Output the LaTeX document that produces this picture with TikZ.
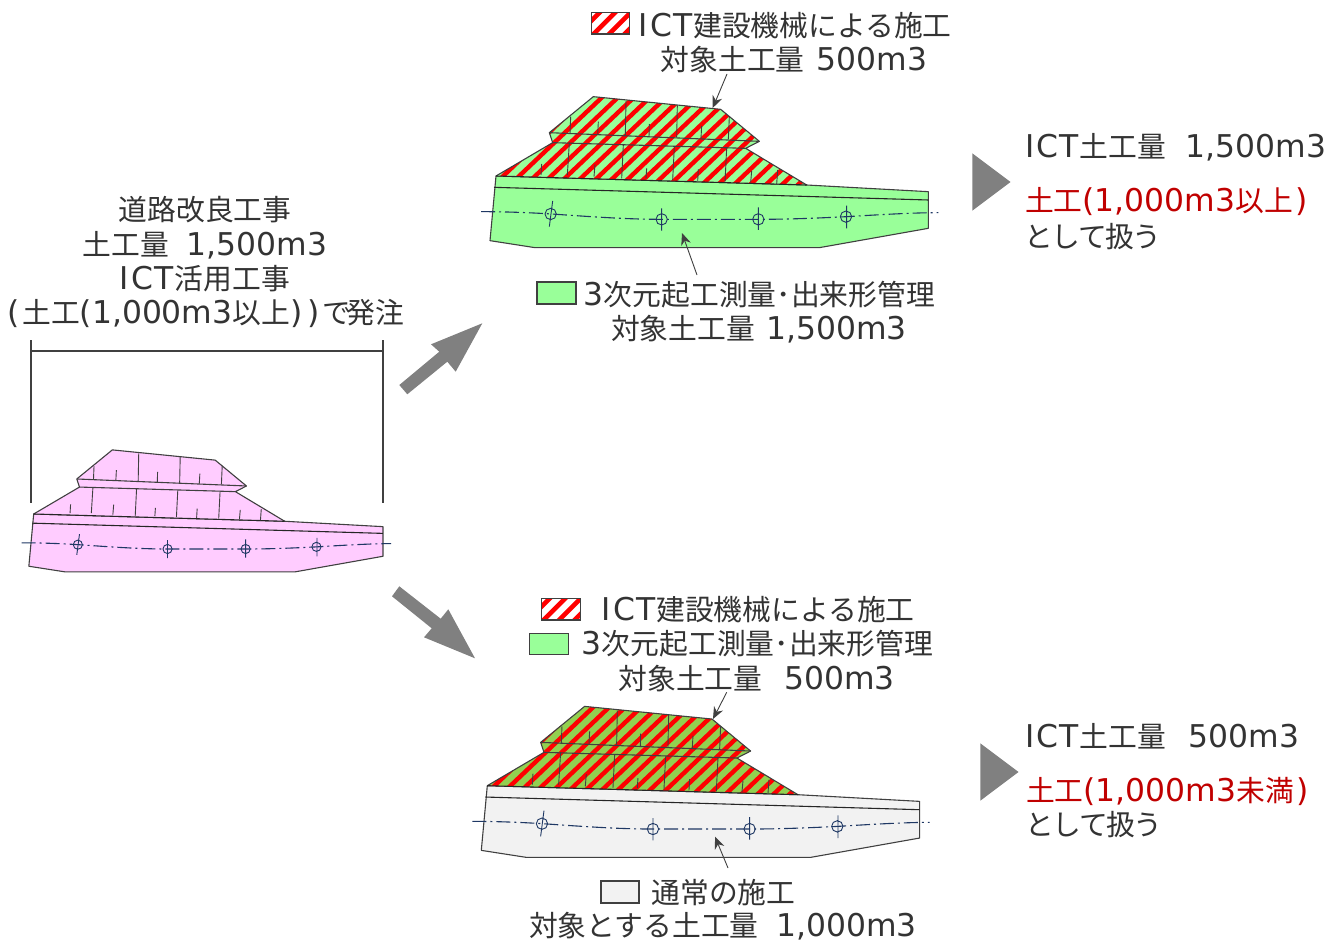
\documentclass[tikz,border=0pt]{standalone}
\usepackage{fontspec}
\setmainfont{Noto Sans CJK JP}
\newfontfamily\lat[Scale=1.09]{DejaVu Sans}
\usetikzlibrary{arrows.meta}
\definecolor{txt}{HTML}{333333}
\definecolor{redtxt}{HTML}{C00000}
\definecolor{edge}{HTML}{404040}
\definecolor{agray}{HTML}{808080}
\definecolor{lgreen}{HTML}{99FF99}
\definecolor{dgreen}{HTML}{92D050}
\definecolor{lpink}{HTML}{FFCCFF}
\definecolor{lgray}{HTML}{F2F2F2}
\definecolor{navy}{HTML}{1F3864}
\newcommand{\ICT}{{\lat I\kern2.5pt C\kern1pt T\kern1pt}}
\newcommand{\toshite}{と\kern-1.6pt し\kern-1.6pt て\kern-1.6pt 扱\kern-1.6pt う}
\tikzset{
 x=1pt,y=-1pt,
 lbl/.style={inner sep=0pt,outer sep=0pt,yshift=-1pt,text=txt,font=\fontsize{28.8}{34}\selectfont},
 bigarrow/.style={fill=agray,draw=none},
 leader/.style={draw=edge,line width=0.9pt,-{Stealth[length=12pt,width=10pt]}},
 swatch/.style={draw=edge,line width=1.1pt},
 sect/.style={draw=edge,line width=1.1pt,line join=round},
 tick/.style={draw=edge,line width=0.9pt},
 ctr/.style={draw=navy,line width=1.1pt,dash pattern=on 14pt off 4pt on 2pt off 4pt},
 mk/.style={draw=navy,line width=0.9pt},
}
\newcommand{\stripes}[1]{%
 \foreach \k in {-6,...,34}{%
  \draw[red,line width=4.4pt] ({\k*#1-300},560) -- ++(400,-380);}%
}
% base fill, mound fill, stripes flag 1/0
\newcommand{\xsect}[3]{%
 \path[sect,fill=#1] (48,528)--(980,555)--(1345,575)--(1345,685)--(1018,743)--(165,743)--(30,722)--cycle;
 \path[fill=#2] (340,290)--(722,328)--(838,424)--(797,445)--(980,555)--(48,528)--(218,428)--(208,398)--cycle;
 \ifnum#3=1
 \begin{scope}
  \clip (340,290)--(722,328)--(838,424)--(797,445)--(980,555)--(48,528)--(218,428)--(208,398)--cycle;
  \stripes{48}
 \end{scope}
 \fi
 \draw[sect] (48,528)--(218,428)--(208,398)--(340,290)--(722,328)--(838,424)--(797,445)--(980,555);
 \draw[sect,draw=black!85] (48,528)--(980,555);
 \draw[sect] (208,398)--(838,424) (218,428)--(797,445);
 \draw[sect,draw=black!85] (42,562)--(1345,600);
 \draw[tick] (438,303)--(436,405) (592,316)--(590,412) (748,350)--(745,418) (272,350)--(270,400)
  (355,365)--(353,405) (508,372)--(507,410) (665,378)--(663,415)
  (268,428)--(262,525) (430,435)--(425,535) (583,440)--(578,540) (740,445)--(735,545) (893,510)--(890,552)
  (185,492)--(183,525) (345,493)--(342,530) (500,505)--(498,535) (655,508)--(653,542) (815,513)--(812,548);
 \draw[ctr] (3,635) .. controls (80,635) and (150,638) .. (215,642) .. controls (330,650) and (440,658) .. (545,658) -- (835,658) .. controls (930,658) and (1020,654) .. (1100,650) .. controls (1200,644) and (1300,638) .. (1375,638);
 \draw[mk] (212,642) circle[radius=17] (218,603)--(208,680)
  (545,658) circle[radius=17] (545,625)--(545,692)
  (835,658) circle[radius=17] (835,622)--(835,690)
  (1098,650) circle[radius=17] (1100,617)--(1100,685);
}
\newcommand{\hatchbox}[4]{%
 \begin{scope}
  \clip (#1,#2) rectangle (#3,#4);
  \fill[white] (#1,#2) rectangle (#3,#4);
  \foreach \k in {-2,...,4}{\draw[red,line width=4.6pt] ({#1+\k*15.5},{#4+2}) -- ++(27,-27);}
 \end{scope}
 \draw[swatch] (#1,#2) rectangle (#3,#4);
}
\begin{document}
\begin{tikzpicture}
\useasboundingbox (0,0) rectangle (1340,941);
% pink
\begin{scope}[shift={(20.77,371.8)},scale=.2693]
 \xsect{lpink}{lpink}{0}
\end{scope}
% green
\begin{scope}[shift={(480,0)},scale=.33333]
 \xsect{lgreen}{lgreen}{1}
\end{scope}
% bottom
\begin{scope}[shift={(471.3,609.7)},scale=.33333]
 \xsect{lgray}{dgreen}{1}
\end{scope}
% bracket
\coordinate (bl) at (31,340); \coordinate (blb) at (31,503);
\coordinate (br) at (383,340); \coordinate (brb) at (383,503);
\coordinate (bml) at (31,351); \coordinate (bmr) at (383,351);
\draw[draw=edge,line width=1.2pt] (bl)--(blb) (br)--(brb) (bml)--(bmr);
% big arrows
\fill[bigarrow] (399.3,385)--(439.3,351.7)--(431,344.3)--(482.3,323.3)--(455.7,371.7)--(447.3,361.7)--(407.3,394.3)--cycle;
\fill[bigarrow] (399.3,586.3)--(440.7,618.7)--(448.3,609.3)--(475,658.3)--(424,637.3)--(431.7,628.3)--(392,596.3)--cycle;
\fill[bigarrow] (972.3,153.3)--(1010.5,182)--(972.3,210.7)--cycle;
\fill[bigarrow] (980.3,743.3)--(1018.5,772)--(980.3,800.7)--cycle;
% swatches
\hatchbox{591.7}{12.5}{629.5}{34}
\hatchbox{541.7}{598.5}{580.3}{620}
\draw[swatch,fill=lgreen] (537,282) rectangle (576,304);
\draw[swatch,fill=lgreen] (529.3,633.3) rectangle (568.7,654.7);
\draw[swatch,fill=lgray] (601,881) rectangle (639,903);
% left text
\node[lbl] (t1) at (205,209) {道路改良工事};
\node[lbl] (t2) at (205,244) {土工量\ \ \,{\lat 1,500m3}};
\node[lbl] (t3) at (205,278) {\ICT 活用工事};
\node[lbl,anchor=west] (t4) at (7,312) {{\lat (}\kern3pt 土工{\lat (1,000m3}以上{\lat )\kern5pt)}\kern3pt で\kern-5pt 発注};
% top
\node[lbl,anchor=west] (a1) at (638.5,25) {\ICT 建設機械による施工};
\node[lbl] (a2) at (794,59) {対象土工量\ \,\kern1pt{\lat 500m3}};
\node[lbl] (a3) at (759.5,294) {{\lat 3}次元起工測量･出来形管理};
\node[lbl] (a4) at (759,328) {対象土工量\ \,{\lat 1,500m3}};
\node[lbl,anchor=west] (r1) at (1025,146) {\ICT 土工量\ \ \,\kern2pt{\lat 1,500m3}};
\node[lbl,anchor=west,text=redtxt] (r2) at (1025,201) {土工{\lat (1,000m3}以上{\kern3pt\lat )}};
\node[lbl,anchor=west] (r3) at (1024,236) {\toshite};
% bottom
\node[lbl,anchor=west] (b1) at (601.5,609) {\ICT 建設機械による施工};
\node[lbl] (b2) at (757.5,643) {{\lat 3}次元起工測量･出来形管理};
\node[lbl] (b3) at (756.5,678) {対象土工量\ \ \,\kern4pt{\lat 500m3}};
\node[lbl,anchor=west] (q1) at (1025,735) {\ICT 土工量\ \ \,\kern5pt{\lat 500m3}};
\node[lbl,anchor=west,text=redtxt] (q2) at (1026,790) {土工{\lat (1,000m3}未満{\kern3pt\lat )}};
\node[lbl,anchor=west] (q3) at (1025,824) {\toshite};
\node[lbl] (b4) at (723.5,892) {通常の施工};
\node[lbl] (b5) at (723,925) {対象とする土工量\ \ \,{\lat 1,000m3}};
% leaders
\coordinate (l1a) at (727,74); \coordinate (l1b) at (712.7,108);
\coordinate (l2a) at (697,275); \coordinate (l2b) at (682,233);
\coordinate (l3a) at (726.7,692.3); \coordinate (l3b) at (713,719);
\coordinate (l4a) at (728,868); \coordinate (l4b) at (715,836.7);
\draw[leader] (l1a)--(l1b);
\draw[leader] (l2a)--(l2b);
\draw[leader] (l3a)--(l3b);
\draw[leader] (l4a)--(l4b);
\end{tikzpicture}
\end{document}
